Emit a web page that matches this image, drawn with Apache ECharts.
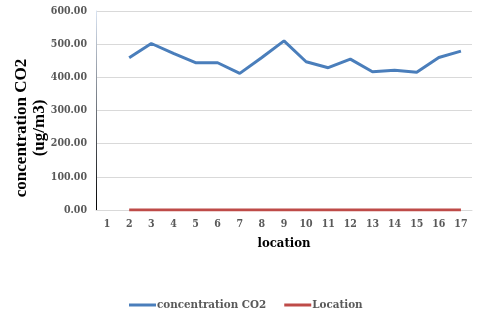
<!DOCTYPE html>
<html><head><meta charset="utf-8">
<script src="https://cdn.jsdelivr.net/npm/echarts@6/dist/echarts.min.js"></script>
<style>html,body{margin:0;padding:0;background:#fff}#c{width:480px;height:315px}</style>
</head><body><div id="c"></div>
<script>
const categories = ['1','2','3','4','5','6','7','8','9','10','11','12','13','14','15','16','17'];
const co2 = [null,459,502,472,444,444,412,460,510,447,429,455,417,421,415,460,479];
const locationVals = [null,0,0,0,0,0,0,0,0,0,0,0,0,0,0,0,0];
const yTicks = [0,100,200,300,400,500,600];
const yTitle = 'concentration CO2\n(ug/m3)';

const font = '"DejaVu Serif Condensed", "DejaVu Serif", serif';
const titleFont = '"Liberation Serif", "DejaVu Serif", serif';
const chart = echarts.init(document.getElementById('c'));
chart.setOption({
  animation: false,
  grid: {left: 96, right: 8, top: 11, bottom: 105, outerBoundsMode: 'none', containLabel: false},
  graphic: [{
    type: 'text', x: 31, y: 128, rotation: Math.PI / 2,
    style: {text: yTitle, font: 'bold 17px ' + titleFont, fill: '#000', align: 'center', verticalAlign: 'middle', lineHeight: 18}
  }],
  legend: {
    top: 294, left: 124, itemWidth: 27, itemHeight: 3, itemGap: 18,
    icon: 'rect',
    textStyle: {fontFamily: font, fontWeight: 'bold', fontSize: 11.5, color: '#595959', padding: [0,0,0,-4]},
    data: ['concentration CO2', 'Location']
  },
  xAxis: {
    type: 'category', data: categories, boundaryGap: true,
    name: 'location', nameLocation: 'middle', nameGap: 27,
    nameTextStyle: {fontFamily: font, fontWeight: 'bold', fontSize: 13, color: '#000'},
    axisLine: {lineStyle: {color: '#d9d9d9'}},
    axisTick: {show: false},
    axisLabel: {fontFamily: font, fontWeight: 'bold', fontSize: 10.5, color: '#595959', margin: 9}
  },
  yAxis: {
    type: 'value', min: yTicks[0], max: yTicks[yTicks.length-1], interval: 100,
    axisLine: {show: true, lineStyle: {color: new echarts.graphic.LinearGradient(0,0,0,1,[{offset:0,color:'#dbe6f5'},{offset:1,color:'#000'}]), width: 1}},
    axisTick: {show: false},
    splitLine: {lineStyle: {color: '#d9d9d9'}},
    axisLabel: {fontFamily: font, fontWeight: 'bold', fontSize: 10.5, color: '#595959', margin: 9,
      formatter: v => v.toFixed(2)}
  },
  series: [
    {name: 'concentration CO2', type: 'line', data: co2, symbol: 'none',
     lineStyle: {color: '#4a7ebb', width: 3}, itemStyle: {color: '#4a7ebb'}},
    {name: 'Location', type: 'line', data: locationVals, symbol: 'none',
     lineStyle: {color: '#be4b48', width: 3}, itemStyle: {color: '#be4b48'}}
  ]
});
</script></body></html>
